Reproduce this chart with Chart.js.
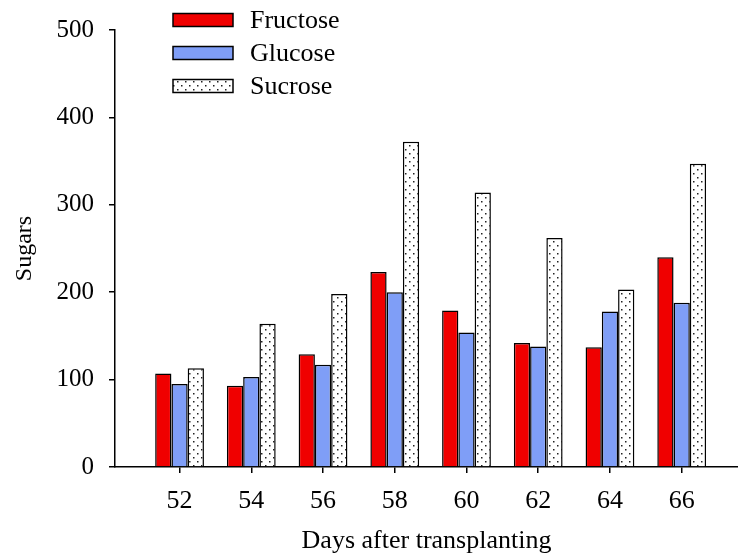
<!DOCTYPE html>
<html>
<head>
<meta charset="utf-8">
<script src="https://cdn.jsdelivr.net/npm/chart.js@4"></script>
<style>
    html, body { margin: 0; padding: 0; background: #fff; }
    #wrap { width: 738px; height: 557px; }
</style>
</head>
<body>
<div id="wrap"><canvas id="sugarsChart" width="738" height="557"></canvas></div>
<script>
const days = [52, 54, 56, 58, 60, 62, 64, 66];
const fructose = [107, 93, 129, 223, 179, 142, 137, 240];
const glucose = [95, 103, 117, 200, 154, 138, 178, 188];
const sucrose = [113, 164, 198, 372, 314, 262, 203, 347];
const yTicks = [0, 100, 200, 300, 400, 500];

const serif = '"Liberation Serif", "Times New Roman", serif';

// dotted fill for sucrose
function dotPattern(ctx) {
    const c = document.createElement('canvas');
    c.width = 8; c.height = 8;
    const p = c.getContext('2d');
    p.fillStyle = '#fff';
    p.fillRect(0, 0, 8, 8);
    p.fillStyle = '#222';
    p.fillRect(1, 1, 1.5, 1.5);
    p.fillRect(5, 5, 1.5, 1.5);
    return ctx.createPattern(c, 'repeat');
}

// legend drawn as a vertical list at the top left
const sideLegend = {
    id: 'sideLegend',
    afterDraw(chart) {
        const ctx = chart.ctx;
        const rows = [20, 53, 86];
        ctx.save();
        ctx.font = '26px ' + serif;
        ctx.textBaseline = 'middle';
        chart.data.datasets.forEach((ds, i) => {
            const y = rows[i];
            ctx.fillStyle = ds.backgroundColor;
            ctx.fillRect(173, y - 6.5, 60, 13);
            ctx.strokeStyle = '#000';
            ctx.lineWidth = 1.5;
            ctx.strokeRect(173, y - 6.5, 60, 13);
            ctx.fillStyle = '#000';
            ctx.fillText(ds.label, 250, y + 1);
        });
        ctx.restore();
    }
};

document.addEventListener('DOMContentLoaded', () => {
    const ctx = document.getElementById('sugarsChart').getContext('2d');
    const dots = dotPattern(ctx);

    new Chart(ctx, {
        type: 'bar',
        data: {
            labels: days,
            datasets: [
                { label: 'Fructose', data: fructose, backgroundColor: '#f00000' },
                { label: 'Glucose', data: glucose, backgroundColor: '#7f9ef7' },
                { label: 'Sucrose', data: sucrose, backgroundColor: dots }
            ]
        },
        options: {
            responsive: false,
            animation: false,
            layout: { padding: { top: 27, right: 0, left: 0, bottom: 0 } },
            datasets: {
                bar: {
                    borderColor: '#000',
                    borderWidth: 1.5,
                    categoryPercentage: 0.68,
                    barPercentage: 1
                }
            },
            plugins: {
                legend: { display: false },
                tooltip: { enabled: false }
            },
            scales: {
                x: {
                    type: 'linear',
                    offset: false,
                    min: 50.2,
                    max: 67.57,
                    afterBuildTicks: s => { s.ticks = days.map(v => ({ value: v })); },
                    afterFit: s => { s.height = 90; },
                    ticks: {
                        autoSkip: false,
                        maxRotation: 0,
                        padding: 13,
                        color: '#000',
                        font: { family: serif, size: 26 },
                        callback: v => String(v)
                    },
                    grid: { offset: false, drawOnChartArea: false, color: '#000', lineWidth: 1.5, tickLength: 6 },
                    border: { color: '#000', width: 1.5 },
                    title: {
                        display: true,
                        text: 'Days after transplanting',
                        color: '#000',
                        font: { family: serif, size: 26 },
                        padding: { top: 0, bottom: 0 }
                    }
                },
                y: {
                    min: 0,
                    max: 500,
                    afterBuildTicks: s => { s.ticks = yTicks.map(v => ({ value: v })); },
                    afterFit: s => { s.width = 115; },
                    ticks: {
                        padding: 15,
                        color: '#000',
                        font: { family: serif, size: 25 }
                    },
                    grid: { drawOnChartArea: false, color: '#000', lineWidth: 1.5, tickLength: 6 },
                    border: { color: '#000', width: 1.5 },
                    title: {
                        display: true,
                        text: 'Sugars',
                        color: '#000',
                        font: { family: serif, size: 24 },
                        padding: { top: 10, bottom: 0 }
                    }
                }
            }
        },
        plugins: [sideLegend]
    });
});
</script>
</body>
</html>
